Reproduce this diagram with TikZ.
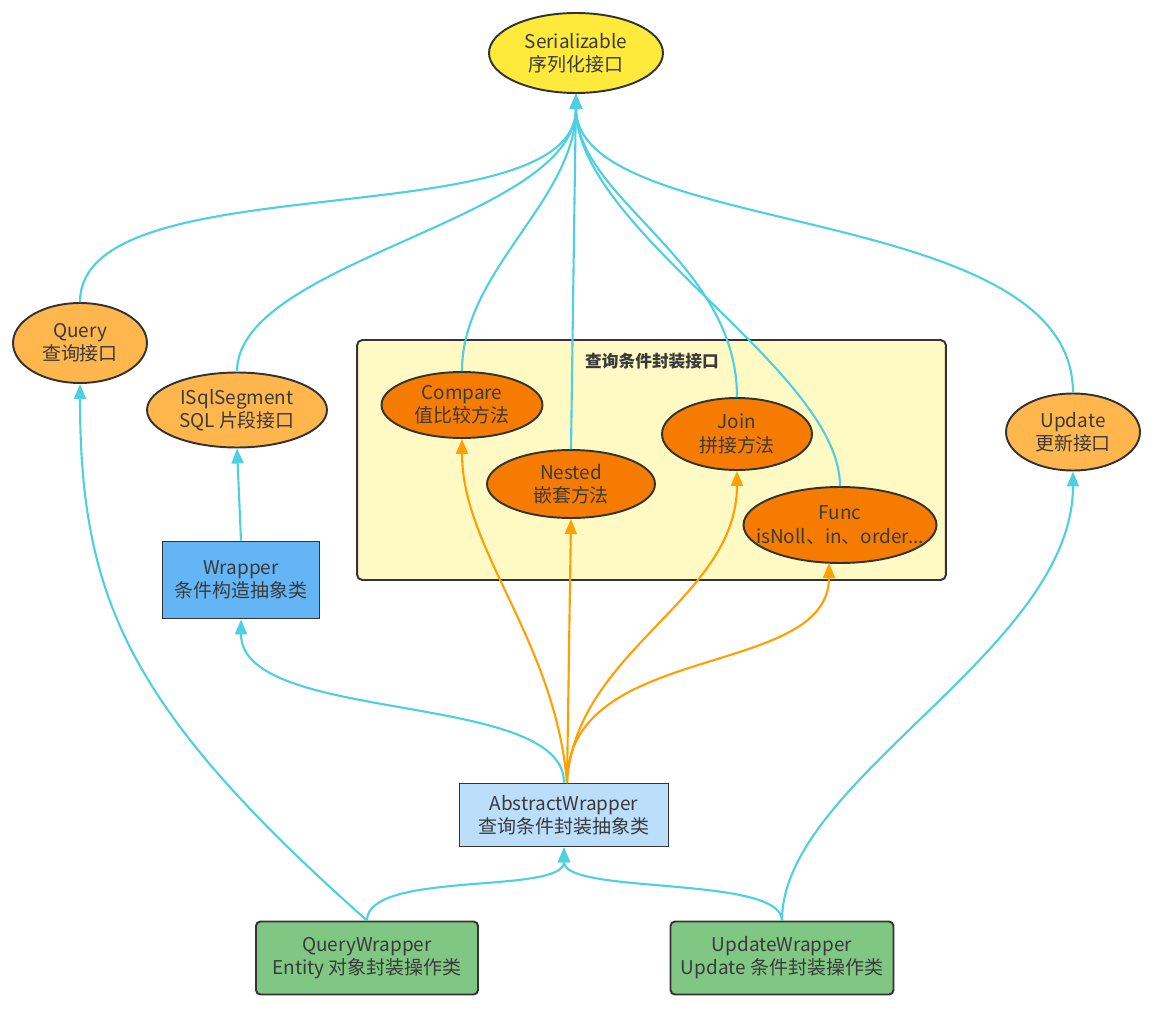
\documentclass[tikz,border=0pt]{standalone}
\usepackage{fontspec}
\setmainfont{Noto Sans CJK SC}
\usetikzlibrary{shapes.geometric,arrows.meta}
\definecolor{bordc}{HTML}{333333}
\definecolor{txtc}{HTML}{3A3A3A}
\definecolor{serc}{HTML}{FFEA3B}
\definecolor{lorc}{HTML}{FFB74D}
\definecolor{dorc}{HTML}{F57C00}
\definecolor{grpc}{HTML}{FFF9C4}
\definecolor{wrpc}{HTML}{64B5F6}
\definecolor{awc}{HTML}{BBDEFB}
\definecolor{grc}{HTML}{81C784}
\definecolor{bluel}{HTML}{4DD0E1}
\definecolor{orgl}{HTML}{FFA000}
\newcommand{\zwbox}[1]{\makebox[0pt]{#1}}
\begin{document}
\begin{tikzpicture}[x=0.02cm,y=-0.02cm,
  base/.style={draw=bordc, line width=1.1pt, text=txtc, font=\fontsize{10.8}{13.2}\selectfont, align=center, inner sep=0pt},
  ell/.style={base, ellipse},
  rbox/.style={base, rectangle},
  gbox/.style={base, rectangle, rounded corners=2.5pt},
  bl/.style={draw=bluel, line width=1.2pt, -{Triangle[length=0.3cm,width=0.24cm]}},
  ol/.style={draw=orgl, line width=1.2pt, -{Triangle[length=0.3cm,width=0.24cm]}},
]
\useasboundingbox (0,0) rectangle (1157,1024);
\fill[white] (0,0) rectangle (1157,1024);

% group box
\node[draw=bordc, line width=1.1pt, fill=grpc, rounded corners=3pt, minimum width=11.78cm, minimum height=4.8cm, inner sep=0pt] (grp) at (651.5,460) {};
\node[text=txtc, font=\bfseries\fontsize{9.5}{11}\selectfont, inner sep=0pt] (grptitle) at (652,361) {查询条件封装接口};

% nodes
\node[ell, fill=serc, minimum width=3.48cm, minimum height=1.6cm] (ser) at (576,53) {Serializable\\序列化接口};
\node[ell, fill=lorc, minimum width=2.68cm, minimum height=1.6cm] (query) at (80,343) {Query\\查询接口};
\node[ell, fill=lorc, minimum width=3.6cm, minimum height=1.5cm] (isql) at (237,410) {ISqlSegment\\SQL 片段接口};
\node[ell, fill=lorc, minimum width=2.68cm, minimum height=1.54cm] (upd) at (1073,432) {Update\\更新接口};
\node[ell, fill=dorc, minimum width=3.22cm, minimum height=1.32cm] (cmp) at (462,405) {\zwbox{Compare}\\\zwbox{值比较方法}};
\node[ell, fill=dorc, minimum width=3.36cm, minimum height=1.36cm] (nst) at (571,484) {\zwbox{Nested}\\\zwbox{嵌套方法}};
\node[ell, fill=dorc, minimum width=3.0cm, minimum height=1.44cm] (join) at (737,434) {Join\\拼接方法};
\node[ell, fill=dorc, minimum width=3.86cm, minimum height=1.52cm] (func) at (840,525) {\zwbox{Func}\\\zwbox{isNoll、in、order...}};
\node[rbox, fill=wrpc, minimum width=3.14cm, minimum height=1.54cm] (wrp) at (241,580) {Wrapper\\条件构造抽象类};
\node[rbox, fill=awc, minimum width=4.18cm, minimum height=1.26cm] (aw) at (564,815) {AbstractWrapper\\查询条件封装抽象类};
\node[gbox, fill=grc, minimum width=4.44cm, minimum height=1.46cm] (qw) at (367,958) {QueryWrapper\\Entity 对象封装操作类};
\node[gbox, fill=grc, minimum width=4.46cm, minimum height=1.46cm] (uw) at (782,958) {UpdateWrapper\\Update 条件封装操作类};

% blue connectors to Serializable
\draw[bl] (query.north) .. controls (80,160) and (576,240) .. (ser.south);
\draw[bl] (isql.north) .. controls (237,260) and (576,220) .. (ser.south);
\draw[bl] (cmp.north) .. controls (462,270) and (576,200) .. (ser.south);
\draw[bl] (nst.north) -- (ser.south);
\draw[bl] (join.north) .. controls (737,260) and (576,200) .. (ser.south);
\draw[bl] (func.north) .. controls (840,370) and (576,230) .. (ser.south);
\draw[bl] (upd.north) .. controls (1073,200) and (576,240) .. (ser.south);

% other blue connectors
\draw[bl] (wrp.north) -- (isql.south);
\draw[bl] (aw.north) .. controls (564,690) and (241,725) .. (wrp.south);
\draw[bl] (qw.north) .. controls (130,710) and (80,600) .. (query.south);
\draw[bl] (qw.north) .. controls (367,870) and (564,895) .. (aw.south);
\draw[bl] (uw.north) .. controls (782,875) and (564,895) .. (aw.south);
\draw[bl] (uw.north) .. controls (782,780) and (1073,650) .. (upd.south);

% orange connectors
\coordinate (awtop) at (567,783);
\coordinate (funcin) at (829,563);
\draw[ol] (awtop) .. controls (555,640) and (462,550) .. (cmp.south);
\draw[ol] (awtop) -- (nst.south);
\draw[ol] (awtop) .. controls (575,650) and (737,600) .. (join.south);
\draw[ol] (awtop) .. controls (567,640) and (829,680) .. (funcin);
\end{tikzpicture}
\end{document}
